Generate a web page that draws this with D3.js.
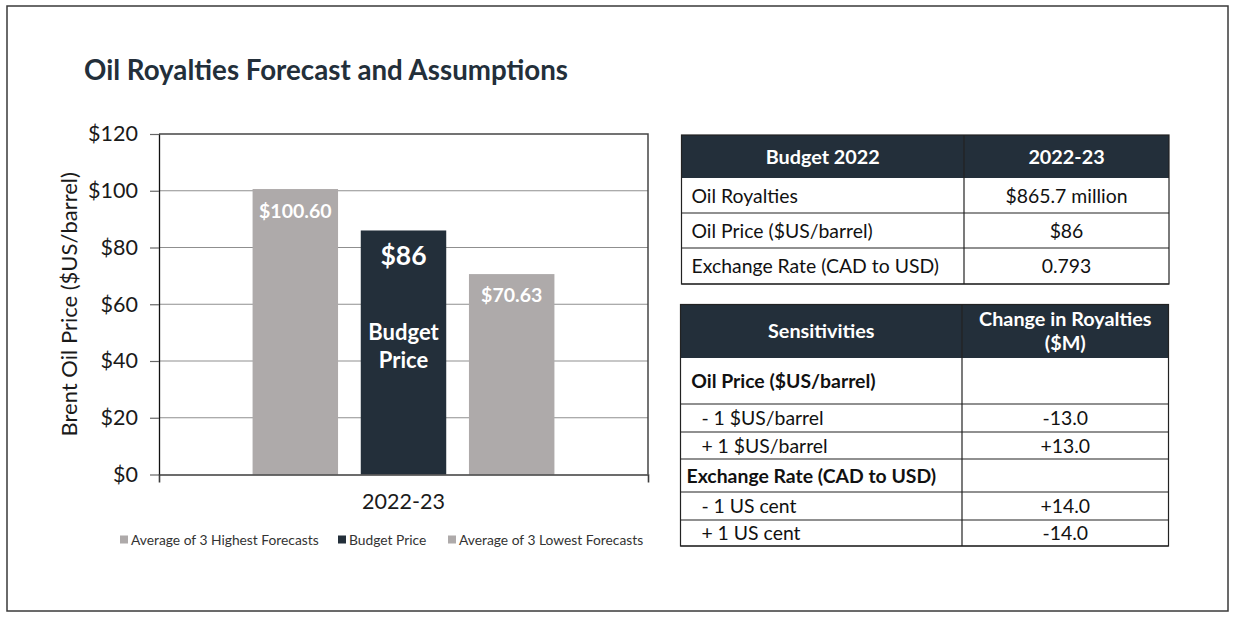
<!DOCTYPE html>
<html>
<head>
<meta charset="utf-8">
<script src="https://cdn.jsdelivr.net/npm/d3@7"></script>
<style>
  html, body { margin: 0; padding: 0; background: #fff; }
  svg { display: block; font-family: Lato, "Open Sans", sans-serif; }
</style>
</head>
<body>
<svg id="chart" width="1240" height="622"></svg>
<script>
// chart data
const categories = ['2022-23'];
const seriesNames = ['Average of 3 Highest Forecasts', 'Budget Price', 'Average of 3 Lowest Forecasts'];
const seriesValues = [100.60, 86, 70.63];
const valueLabels = ['$100.60', '$86', '$70.63'];
const yTicks = [0, 20, 40, 60, 80, 100, 120];

// table data
const budgetHeader = ['Budget 2022', '2022-23'];
const budgetRows = [
  ['Oil Royalties', '$865.7 million', 'normal'],
  ['Oil Price ($US/barrel)', '$86', 'normal'],
  ['Exchange Rate (CAD to USD)', '0.793', 'normal']
];
const sensHeader = ['Sensitivities', 'Change in Royalties|($M)'];
const sensRows = [
  [' Oil Price ($US/barrel)', '', 'bold'],
  ['   - 1 $US/barrel', '-13.0', 'normal'],
  ['   + 1 $US/barrel', '+13.0', 'normal'],
  ['Exchange Rate (CAD to USD)', '', 'bold'],
  ['   - 1 US cent', '+14.0', 'normal'],
  ['   + 1 US cent', '-14.0', 'normal']
];

const dark = '#232f3a';
const grey = '#aeaaaa';
const colors = [grey, dark, grey];

const svg = d3.select('#chart');

// outer frame
svg.append('rect')
  .attr('x', 7).attr('y', 6).attr('width', 1221).attr('height', 605)
  .attr('fill', 'none').attr('stroke', '#3a3a3a').attr('stroke-width', 1.5);

svg.append('text')
  .attr('x', 84).attr('y', 80)
  .attr('font-size', 27.7).attr('font-weight', 700)
  .attr('fill', dark)
  .text('Oil Royalties Forecast and Assumptions');

// plot area
const plot = {left: 159, right: 648, top: 134, bottom: 474.5};

const y = d3.scaleLinear()
  .domain([0, 120])
  .range([plot.bottom, plot.top]);

const x0 = d3.scaleBand()
  .domain(categories)
  .range([plot.left, plot.right])
  .paddingInner(0)
  .paddingOuter(0.31);

const x1 = d3.scaleBand()
  .domain(seriesNames)
  .range([0, x0.bandwidth()])
  .paddingInner(0.21);

const g = svg.append('g');

// gridlines
g.append('g')
  .selectAll('line')
  .data(yTicks.filter(d => d > 0 && d < 120))
  .join('line')
  .attr('x1', plot.left).attr('x2', plot.right)
  .attr('y1', d => y(d)).attr('y2', d => y(d))
  .attr('stroke', '#8f8f8f').attr('stroke-width', 1.2);

// plot border top & right
g.append('path')
  .attr('d', `M${plot.left},${y(120)}H${plot.right}V${plot.bottom}`)
  .attr('fill', 'none').attr('stroke', '#454545').attr('stroke-width', 1.5);

// bars
g.append('g')
  .selectAll('rect')
  .data(seriesValues)
  .join('rect')
  .attr('x', (d, i) => x0(categories[0]) + x1(seriesNames[i]))
  .attr('y', d => y(d))
  .attr('width', x1.bandwidth())
  .attr('height', d => y(0) - y(d))
  .attr('fill', (d, i) => colors[i]);

// y axis
const yAxis = d3.axisLeft(y)
  .tickValues(yTicks)
  .tickFormat(d => '$' + d)
  .tickSizeInner(9)
  .tickSizeOuter(0)
  .tickPadding(12);

const axisY = g.append('g')
  .attr('transform', `translate(${plot.left},0)`)
  .call(yAxis);
axisY.select('.domain').attr('stroke', '#111').attr('stroke-width', 1.3);
axisY.selectAll('.tick line').attr('stroke', '#666').attr('stroke-width', 1.2);
axisY.selectAll('.tick text')
  .attr('font-size', 21.5).attr('fill', '#1a1a1a')
  .attr('font-family', 'Lato, sans-serif');

// x axis
const xAxis = d3.axisBottom(x0)
  .tickSizeInner(0)
  .tickSizeOuter(8)
  .tickPadding(19);

const axisX = g.append('g')
  .attr('transform', `translate(0,${plot.bottom})`)
  .call(xAxis);
axisX.select('.domain').attr('stroke', '#3c3c3c').attr('stroke-width', 1.6);
axisX.selectAll('.tick text')
  .attr('font-size', 21.5).attr('fill', '#1a1a1a')
  .attr('font-family', 'Lato, sans-serif');

// y title
svg.append('text')
  .attr('transform', `translate(77,${(plot.top + plot.bottom) / 2}) rotate(-90)`)
  .attr('text-anchor', 'middle')
  .attr('font-size', 22).attr('fill', '#1a1a1a')
  .text('Brent Oil Price ($US/barrel)');

// bar labels
const labelSize = [19.5, 26.5, 19.5];
const labelDrop = [29, 35, 28];
g.append('g')
  .selectAll('text')
  .data(seriesValues)
  .join('text')
  .attr('x', (d, i) => x0(categories[0]) + x1(seriesNames[i]) + x1.bandwidth() / 2)
  .attr('y', (d, i) => y(d) + labelDrop[i])
  .attr('text-anchor', 'middle')
  .attr('font-size', (d, i) => labelSize[i])
  .attr('font-weight', 700)
  .attr('fill', '#fff')
  .text((d, i) => valueLabels[i]);

const midX = x0(categories[0]) + x1(seriesNames[1]) + x1.bandwidth() / 2;
['Budget', 'Price'].forEach((t, i) => {
  g.append('text')
    .attr('x', midX).attr('y', 340 + i * 28)
    .attr('text-anchor', 'middle')
    .attr('font-size', 22).attr('font-weight', 700)
    .attr('fill', '#fff')
    .text(t);
});

// legend
const legendX = [120, 338, 448];
const legend = svg.append('g')
  .selectAll('g')
  .data(seriesNames)
  .join('g')
  .attr('transform', (d, i) => `translate(${legendX[i]},540)`);
legend.append('rect')
  .attr('x', 0).attr('y', -4.5).attr('width', 8).attr('height', 8)
  .attr('fill', (d, i) => colors[i]);
legend.append('text')
  .attr('x', 11).attr('y', 4.5)
  .attr('font-size', 13.8).attr('fill', '#333')
  .text(d => d);

// tables
function drawTable(top, left, divider, right, headerH, rowHs, padL, header, rows) {
  const t = svg.append('g');
  const bottom = top + headerH + d3.sum(rowHs);
  t.append('rect')
    .attr('x', left).attr('y', top).attr('width', right - left).attr('height', headerH)
    .attr('fill', dark);
  header.forEach((h, i) => {
    const cx = i === 0 ? (left + divider) / 2 : (divider + right) / 2;
    const lines = h.split('|');
    lines.forEach((ln, j) => {
      t.append('text')
        .attr('x', cx)
        .attr('y', top + headerH / 2 + 7 + (j - (lines.length - 1) / 2) * 24)
        .attr('text-anchor', 'middle')
        .attr('font-size', 19.8).attr('font-weight', 700).attr('fill', '#fff')
        .text(ln);
    });
  });
  let yy = top + headerH;
  rows.forEach((r, i) => {
    const h = rowHs[i];
    t.append('line')
      .attr('x1', left).attr('x2', right).attr('y1', yy + h).attr('y2', yy + h)
      .attr('stroke', '#222').attr('stroke-width', 1.2);
    t.append('text')
      .attr('x', left + padL).attr('y', yy + h / 2 + 7)
      .attr('font-size', 19.4).attr('fill', '#111')
      .attr('font-weight', r[2] === 'bold' ? 700 : 400)
      .style('white-space', 'pre')
      .text(r[0]);
    t.append('text')
      .attr('x', (divider + right) / 2).attr('y', yy + h / 2 + 7)
      .attr('text-anchor', 'middle')
      .attr('font-size', 19.4).attr('fill', '#111')
      .text(r[1]);
    yy += h;
  });
  t.append('line')
    .attr('x1', divider).attr('x2', divider).attr('y1', top).attr('y2', bottom)
    .attr('stroke', '#222').attr('stroke-width', 1.2);
  t.append('rect')
    .attr('x', left).attr('y', top).attr('width', right - left).attr('height', bottom - top)
    .attr('fill', 'none').attr('stroke', '#222').attr('stroke-width', 1.2);
}

drawTable(135, 681.5, 964, 1169, 43, [35, 35, 36], 10, budgetHeader, budgetRows);
drawTable(304.5, 680.5, 962, 1168.5, 53.5, [46, 28, 27, 33, 28, 26], 6, sensHeader, sensRows);
</script>
</body>
</html>
